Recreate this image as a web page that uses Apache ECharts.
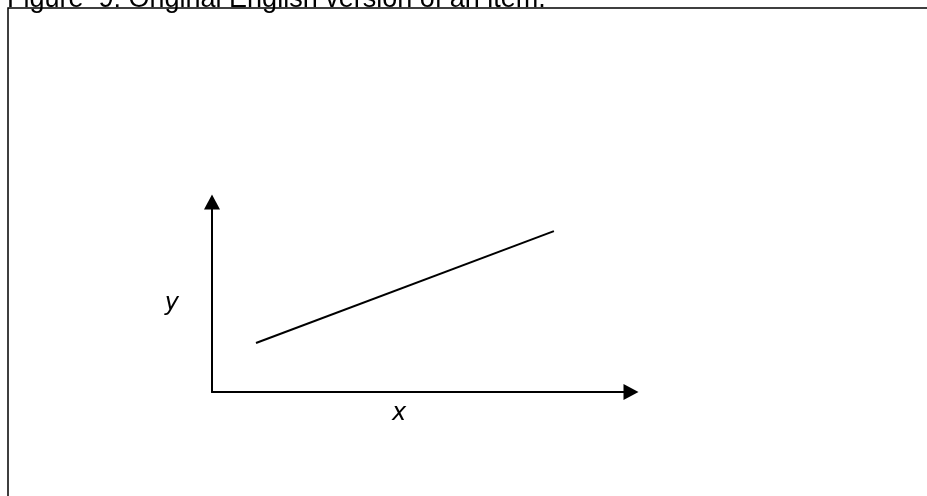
<!DOCTYPE html>
<html lang="en">
<head>
    <meta charset="UTF-8">
    <title>Figure 9</title>
    <style>
        html, body { margin: 0; padding: 0; background: #fff; }
        #chart { width: 927px; height: 496px; }
    </style>
</head>
<body>
    <div id="chart"></div>
    <script src="https://cdn.jsdelivr.net/npm/echarts@6/dist/echarts.min.js"></script>
    <script>
        // values (axes run 0..10, no ticks shown)
        const titleText = 'Figure  9: Original English version of an item.'
        const lineX = [1.05, 8.16]
        const lineY = [2.58, 8.47]
        const axisNames = ['x', 'y']

        const chart = echarts.init(document.getElementById('chart'), null, { renderer: 'canvas' })

        function axis (name, gap, extra) {
            return {
                type: 'value',
                min: 0,
                max: 10,
                splitLine: { show: false },
                axisTick: { show: false },
                axisLabel: { show: false },
                axisLine: {
                    show: true,
                    symbol: ['none', 'triangle'],
                    symbolSize: [16, 15],
                    lineStyle: { color: '#000', width: 2 }
                },
                name,
                nameLocation: 'middle',
                nameRotate: 0,
                nameGap: gap,
                nameTextStyle: Object.assign({
                    fontFamily: 'DejaVu Sans',
                    fontStyle: 'italic',
                    fontSize: 24,
                    color: '#000'
                }, extra)
            }
        }

        chart.setOption({
            animation: false,
            title: {
                text: titleText,
                left: 2,
                top: -19,
                textStyle: {
                    fontFamily: 'Liberation Sans',
                    fontWeight: 'normal',
                    fontSize: 27,
                    color: '#000'
                }
            },
            graphic: [{
                type: 'rect',
                shape: { x: 8, y: 8, width: 940, height: 520 },
                style: { fill: 'none', stroke: '#000', lineWidth: 1.5 },
                z: -1
            }],
            grid: { left: 212, top: 202, width: 419, height: 190 },
            xAxis: axis(axisNames[0], 10, { padding: [0, 45, 0, 0] }),
            yAxis: axis(axisNames[1], 33, { verticalAlign: 'top', lineHeight: 14 }),
            series: [{
                type: 'line',
                data: lineX.map((x, i) => [x, lineY[i]]),
                symbol: 'none',
                lineStyle: { color: '#000', width: 2 }
            }]
        })
    </script>
</body>
</html>
